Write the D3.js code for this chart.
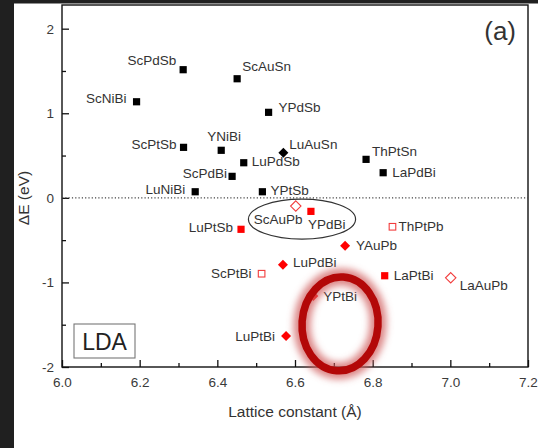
<!DOCTYPE html>
<html>
<head>
<meta charset="utf-8">
<script src="https://cdn.jsdelivr.net/npm/d3@7"></script>
<style>
  html, body { margin: 0; padding: 0; background: #fff; }
  svg { display: block; }
  text { font-family: "Liberation Sans", Arial, sans-serif; }
</style>
</head>
<body>
<svg id="chart" width="538" height="448"></svg>
<script>
// Half-Heusler compounds: lattice constant (Å) vs band inversion strength ΔE (eV), LDA
const compounds = ["ScPdSb", "ScAuSn", "ScNiBi", "YPdSb", "ScPtSb", "YNiBi", "LuPdSb", "ScPdBi",
  "LuNiBi", "YPtSb", "LuAuSn", "ThPtSn", "LaPdBi", "ScAuPb", "YPdBi", "LuPtSb", "ThPtPb",
  "YAuPb", "LuPdBi", "ScPtBi", "YPtBi", "LuPtBi", "LaPtBi", "LaAuPb"];
const latticeConst = [6.312, 6.451, 6.192, 6.532, 6.313, 6.410, 6.468, 6.438,
  6.343, 6.516, 6.570, 6.783, 6.827, 6.602, 6.641, 6.461, 6.851,
  6.729, 6.569, 6.514, 6.647, 6.577, 6.831, 7.001];
const deltaE = [1.515, 1.408, 1.136, 1.011, 0.597, 0.562, 0.415, 0.254,
  0.072, 0.072, 0.533, 0.455, 0.297, -0.097, -0.160, -0.372, -0.342,
  -0.566, -0.791, -0.897, -1.161, -1.634, -0.921, -0.945];
const symbolKind = ["square", "square", "square", "square", "square", "square", "square", "square",
  "square", "square", "diamond", "square", "square", "diamond", "square", "square", "square",
  "diamond", "diamond", "square", "diamond", "diamond", "square", "diamond"];
const filledMark = [true, true, true, true, true, true, true, true,
  true, true, true, true, true, false, true, true, false,
  true, true, false, true, true, true, false];

const xTicks = [6.0, 6.2, 6.4, 6.6, 6.8, 7.0, 7.2];
const yTicks = [-2, -1, 0, 1, 2];
const xTitle = "Lattice constant (Å)";
const yTitle = "ΔE (eV)";
const panelTag = "(a)";
const methodTag = "LDA";

// label placement for each compound: [dx, dy, anchor]
const labelPlace = {
  ScPdSb: [-7, -5, "end"], ScAuSn: [5, -8, "start"], ScNiBi: [-10, 1, "end"],
  YPdSb: [10, 0, "start"], ScPtSb: [-7, 2, "end"], YNiBi: [3, -9, "middle"],
  LuPdSb: [8, 3, "start"], ScPdBi: [-5, 2, "end"], LuNiBi: [-10, 2, "end"],
  YPtSb: [8, 3, "start"], LuAuSn: [6, -4, "start"], ThPtSn: [6, -3, "start"],
  LaPdBi: [9, 4, "start"], ScAuPb: [-42, 18, "start"], YPdBi: [-3, 18, "start"],
  LuPtSb: [-8, 3, "end"], ThPtPb: [6, 4, "start"], YAuPb: [11, 4, "start"],
  LuPdBi: [10, 2, "start"], ScPtBi: [-10, 4, "end"], YPtBi: [10, 5, "start"],
  LuPtBi: [-11, 5, "end"], LaPtBi: [9, 4, "start"], LaAuPb: [9, 12, "start"]
};

const svg = d3.select("#chart");
const W = 538, H = 448;
const plot = { left: 62, right: 528, top: 5, bottom: 367 };

// dark surround on the left and top edges
svg.append("rect").attr("x", 0).attr("y", 0).attr("width", W).attr("height", H).attr("fill", "#fff");
svg.append("rect").attr("x", 0).attr("y", 0).attr("width", 14).attr("height", H).attr("fill", "#202020");
svg.append("rect").attr("x", 0).attr("y", 0).attr("width", W).attr("height", 3.5).attr("fill", "#202020");

const x = d3.scaleLinear().domain([6.0, 7.2]).range([plot.left, plot.right]);
const y = d3.scaleLinear().domain([-2, 2.28]).range([plot.bottom, plot.top]);

const axisColor = "#111";
const tickFont = 13.5;

// minor ticks
const xMinor = d3.range(6.1, 7.2, 0.2);
const yMinor = [-1.5, -0.5, 0.5, 1.5];
svg.append("g").attr("transform", `translate(0,${plot.bottom})`)
  .call(d3.axisBottom(x).tickValues(xMinor).tickSize(-4).tickFormat(""))
  .call(g => g.select(".domain").remove());
svg.append("g").attr("transform", `translate(${plot.left},0)`)
  .call(d3.axisLeft(y).tickValues(yMinor).tickSize(-4).tickFormat(""))
  .call(g => g.select(".domain").remove());

// major ticks with labels (plain hyphen for negatives)
const gx = svg.append("g").attr("transform", `translate(0,${plot.bottom})`)
  .call(d3.axisBottom(x).tickValues(xTicks).tickSize(-7).tickPadding(10).tickFormat(d => d.toFixed(1)));
const gy = svg.append("g").attr("transform", `translate(${plot.left},0)`)
  .call(d3.axisLeft(y).tickValues(yTicks).tickSize(-7).tickPadding(8).tickFormat(d => String(d)));
[gx, gy].forEach(g => {
  g.select(".domain").remove();
  g.selectAll("text").attr("font-size", tickFont).attr("fill", "#3a3a3a")
    .attr("font-family", "'Liberation Sans', Arial, sans-serif");
});
svg.selectAll(".tick line").attr("stroke", axisColor).attr("stroke-width", 1.3);

// frame
svg.append("rect")
  .attr("x", plot.left).attr("y", plot.top)
  .attr("width", plot.right - plot.left).attr("height", plot.bottom - plot.top)
  .attr("fill", "none").attr("stroke", axisColor).attr("stroke-width", 1.4);

// zero reference line
svg.append("line")
  .attr("x1", x(6.0)).attr("x2", x(7.2)).attr("y1", y(0)).attr("y2", y(0))
  .attr("stroke", "#444").attr("stroke-width", 1.2).attr("stroke-dasharray", "1.2,2.1");

// axis titles
svg.append("text").attr("x", (plot.left + plot.right) / 2).attr("y", 416.5)
  .attr("text-anchor", "middle").attr("font-size", 15.5).attr("fill", "#333").text(xTitle);
svg.append("text").attr("transform", "translate(28.5,198) rotate(-90)")
  .attr("text-anchor", "middle").attr("font-size", 15.5).attr("fill", "#333").text(yTitle);

// panel tag and method box
svg.append("text").attr("x", 516).attr("y", 40).attr("text-anchor", "end")
  .attr("font-size", 26).attr("fill", "#333").text(panelTag);
svg.append("rect").attr("x", 74).attr("y", 324).attr("width", 61).attr("height", 34)
  .attr("fill", "none").attr("stroke", "#777").attr("stroke-width", 1.1);
svg.append("text").attr("x", 104.5).attr("y", 349.5).attr("text-anchor", "middle")
  .attr("font-size", 23).attr("fill", "#222").text(methodTag);

// ellipse grouping the near-zero compounds
svg.append("ellipse")
  .attr("cx", x(6.618)).attr("cy", y(-0.252))
  .attr("rx", x(6.618 + 0.138) - x(6.618)).attr("ry", y(-0.252) - y(-0.252 + 0.236))
  .attr("fill", "none").attr("stroke", "#333").attr("stroke-width", 1.2);

// markers
const rows = compounds.map((name, i) => ({
  name, a: latticeConst[i], e: deltaE[i], kind: symbolKind[i], filled: filledMark[i]
}));
const colorOf = d => d.e >= 0 ? "#000" : "#ff0000";

const marks = svg.append("g");
rows.forEach(d => {
  const cx = x(d.a), cy = y(d.e);
  const c = colorOf(d);
  if (d.kind === "square") {
    const s = d.filled ? 7.2 : 6.6;
    marks.append("rect").attr("x", cx - s / 2).attr("y", cy - s / 2).attr("width", s).attr("height", s)
      .attr("fill", d.filled ? c : "#fff").attr("stroke", d.filled ? "none" : "#f23c3c")
      .attr("stroke-width", 1.1);
  } else {
    const r = d.filled ? 5 : 5.2;
    marks.append("path")
      .attr("d", `M${cx},${cy - r}L${cx + r},${cy}L${cx},${cy + r}L${cx - r},${cy}Z`)
      .attr("fill", d.filled ? c : "#fff").attr("stroke", d.filled ? "none" : "#f23c3c")
      .attr("stroke-width", 1.1);
  }
});

// compound labels
rows.forEach(d => {
  const p = labelPlace[d.name];
  svg.append("text").attr("x", x(d.a) + p[0]).attr("y", y(d.e) + p[1])
    .attr("text-anchor", p[2]).attr("font-size", 13.5).attr("fill", "#333").text(d.name);
});

// highlight ring with soft glow around YPtBi region
const defs = svg.append("defs");
defs.append("filter").attr("id", "glow").attr("x", "-50%").attr("y", "-50%")
  .attr("width", "200%").attr("height", "200%")
  .append("feGaussianBlur").attr("stdDeviation", 3.5);
const ring = svg.append("g").attr("transform", `translate(${x(6.716)},${y(-1.49)}) rotate(4)`);
ring.append("ellipse").attr("rx", 38).attr("ry", 47)
  .attr("fill", "none").attr("stroke", "#d06060").attr("stroke-opacity", 0.75)
  .attr("stroke-width", 17).attr("filter", "url(#glow)");
ring.append("ellipse").attr("rx", 38).attr("ry", 47)
  .attr("fill", "none").attr("stroke", "#b30808").attr("stroke-width", 7.5);
</script>
</body>
</html>
